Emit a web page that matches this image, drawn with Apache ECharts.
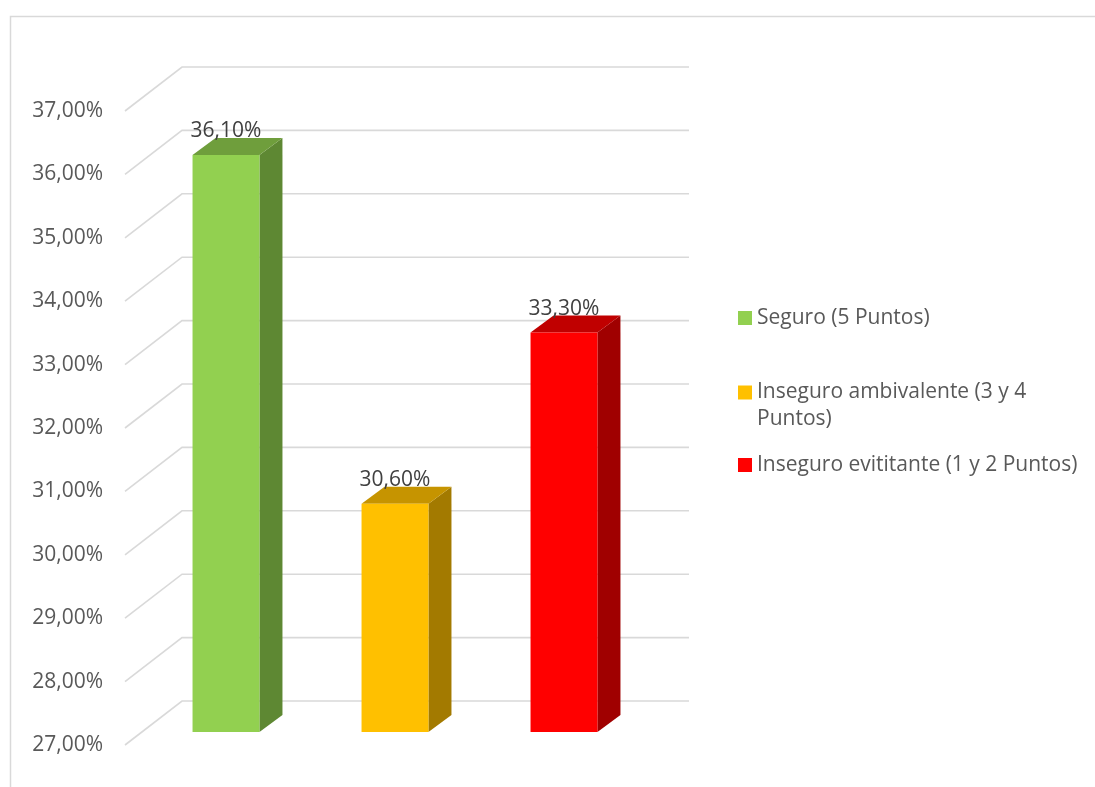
<!DOCTYPE html>
<html><head><meta charset="utf-8">
<script src="https://cdn.jsdelivr.net/npm/echarts@6/dist/echarts.min.js"></script>
<style>html,body{margin:0;padding:0;background:#fff}#c{width:1095px;height:787px}</style>
</head><body><div id="c"></div>
<script>
// ---- data ----
const categories = ['Seguro (5 Puntos)', 'Inseguro ambivalente (3 y 4 Puntos)', 'Inseguro evititante (1 y 2 Puntos)'];
const values = [36.1, 30.6, 33.3];
const yTicks = [27, 28, 29, 30, 31, 32, 33, 34, 35, 36, 37];
const yMin = 27, yMax = 37, yStep = 1;

// ---- styles ----
const frontColors = ['#92d050', '#ffc000', '#ff0000'];
const topColors = ['#6f9e3c', '#c69400', '#c00000'];
const sideColors = ['#5e8833', '#a37a00', '#a00000'];
const FONT = '"Open Sans", "Liberation Sans", sans-serif';
const FS = 21;
const DX = 57, DY = 44;          // back-wall depth offset
const BX = 16.5, BY = 13;        // bar front-face depth offset
const SX = 23, SY = 17;          // bar side/top depth
const BAR_FRAC = 0.396;

function fmt(v) { return v.toFixed(2).replace('.', ',') + '%'; }

function renderGrid(params, api) {
  const y = api.coord([0, api.value(1)])[1];
  const x0 = params.coordSys.x, x1 = x0 + params.coordSys.width;
  return {
    type: 'polyline',
    shape: { points: [[x0, y], [x0 + DX, y - DY], [x1 + DX, y - DY]] },
    style: { stroke: '#d9d9d9', lineWidth: 1.6, fill: null }
  };
}

function makeBarRenderer(i) {
  return function (params, api) {
    const top = api.coord([api.value(0), api.value(1)]);
    const base = api.coord([api.value(0), yMin]);
    const w = api.size([1, 0])[0] * BAR_FRAC;
    const cx = top[0] + BX;
    const x0 = cx - w / 2, x1 = cx + w / 2;
    const yt = top[1] - BY, yb = base[1] - BY;
    return {
      type: 'group',
      children: [
        { type: 'polygon', shape: { points: [[x1, yb], [x1 + SX, yb - SY], [x1 + SX, yt - SY], [x1, yt]] }, style: { fill: sideColors[i] } },
        { type: 'polygon', shape: { points: [[x0, yt], [x0 + SX, yt - SY], [x1 + SX, yt - SY], [x1, yt]] }, style: { fill: topColors[i] } },
        { type: 'rect', shape: { x: x0, y: yt, width: w, height: yb - yt }, style: { fill: frontColors[i] } },
        { type: 'text', style: { text: fmt(api.value(1)), x: cx, y: yt - 24, align: 'center', verticalAlign: 'middle', fill: '#404040', fontSize: FS, fontFamily: FONT } }
      ]
    };
  };
}

const legendTops = [304.5, 352, 451.5];
const legends = categories.map((c, i) => ({
  data: [c],
  left: 738,
  top: legendTops[i],
  orient: 'vertical',
  padding: 0,
  itemWidth: 14,
  itemHeight: 14,
  icon: 'rect',
  selectedMode: false,
  formatter: i === 1 ? (name => '\n' + name) : (name => name),
  textStyle: Object.assign({ color: '#595959', fontSize: FS, fontFamily: FONT, lineHeight: 27 },
    i === 1 ? { width: 295, overflow: 'break' } : {})
}));

const series = [{
  type: 'custom',
  name: '_grid',
  silent: true,
  clip: false,
  z: 1,
  renderItem: renderGrid,
  encode: { x: 0, y: 1 },
  data: yTicks.map(v => [0, v])
}].concat(categories.map((c, i) => ({
  type: 'custom',
  name: c,
  clip: false,
  z: 2 + i,
  itemStyle: { color: frontColors[i] },
  renderItem: makeBarRenderer(i),
  encode: { x: 0, y: 1 },
  data: [[i, values[i]]]
})));

const chart = echarts.init(document.getElementById('c'), null, { renderer: 'canvas' });
chart.setOption({
  animation: false,
  backgroundColor: '#ffffff',
  graphic: [{
    type: 'rect', left: 8, top: 14, silent: true,
    shape: { width: 1200, height: 900 },
    style: { fill: null, stroke: '#d9d9d9', lineWidth: 1.5 }
  }],
  grid: { left: 125, top: 111, width: 507, height: 634 },
  legend: legends,
  xAxis: {
    type: 'category', data: categories,
    axisLine: { show: false }, axisTick: { show: false }, axisLabel: { show: false }, splitLine: { show: false }
  },
  yAxis: {
    type: 'value', min: yMin, max: yMax, interval: yStep,
    axisLine: { show: false }, axisTick: { show: false }, splitLine: { show: false },
    axisLabel: { formatter: fmt, color: '#595959', fontSize: FS, fontFamily: FONT, margin: 22, padding: [9, 0, 0, 0] }
  },
  series: series
});
</script>
</body></html>
